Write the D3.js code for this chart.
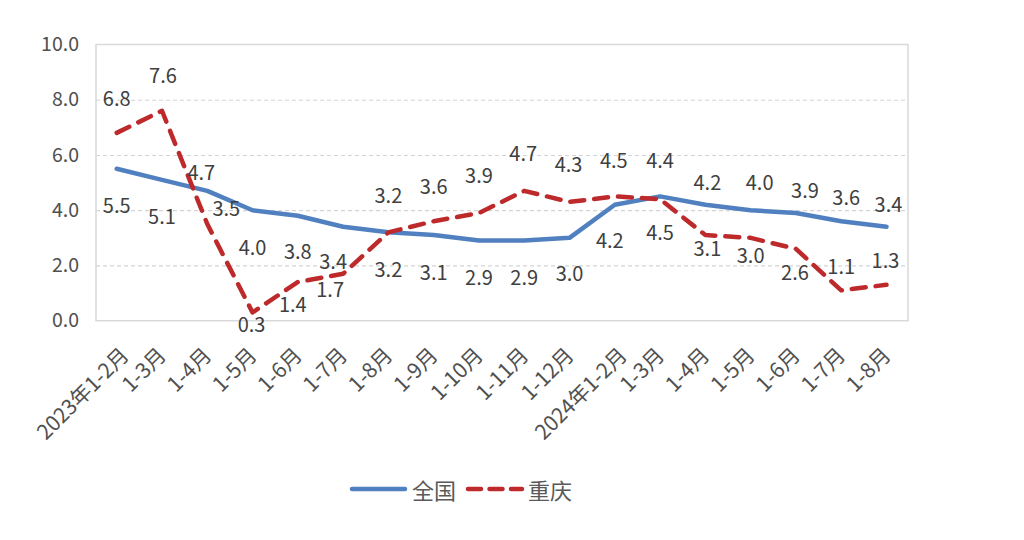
<!DOCTYPE html>
<html>
<head>
<meta charset="utf-8">
<script src="https://cdn.jsdelivr.net/npm/d3@7/dist/d3.min.js"></script>
<style>
  html, body { margin: 0; padding: 0; background: #fff; }
  svg { display: block; font-family: "Noto Sans CJK SC", "Noto Sans", sans-serif; }
</style>
</head>
<body>
<svg id="chart" width="1024" height="540"></svg>
<script>
// ---- data ----
const categories = ["2023年1-2月", "1-3月", "1-4月", "1-5月", "1-6月", "1-7月", "1-8月", "1-9月", "1-10月", "1-11月", "1-12月",
                    "2024年1-2月", "1-3月", "1-4月", "1-5月", "1-6月", "1-7月", "1-8月"];
const nationalValues = [5.5, 5.1, 4.7, 4.0, 3.8, 3.4, 3.2, 3.1, 2.9, 2.9, 3.0, 4.2, 4.5, 4.2, 4.0, 3.9, 3.6, 3.4];
const chongqingValues = [6.8, 7.6, 3.5, 0.3, 1.4, 1.7, 3.2, 3.6, 3.9, 4.7, 4.3, 4.5, 4.4, 3.1, 3.0, 2.6, 1.1, 1.3];
const yTicks = [0, 2, 4, 6, 8, 10];
const seriesNames = ["全国", "重庆"];

// ---- label layout (pixel offsets from each point) ----
const nationalLabelDx = [0, 0, -6, 0, 0, -10, 0, 0, 0, 0, 0, -5, 0, 2, 9, 9, 5, 2];
const nationalLabelDy = [36, 36, -19, 36, 35, 34, 36, 36, 36, 36, 35, 35, 35, -23, -29, -23, -25, -23];
const chongqingLabelDx = [0, 1, 19, -1, -5, -13, 0, 0, 0, -1, -1, -1, 0, 2, 0, -1, 0, -1];
const chongqingLabelDy = [-35, -36, -17, 11, 21, 15, -38, -36, -38, -38, -38, -37, -40, 12, 17, 23, -25, -25];

// ---- layout ----
const svg = d3.select("#chart");
const frame = { left: 96, right: 908, top: 44.5, bottom: 320.7 };

const x = d3.scalePoint().domain(d3.range(categories.length)).range([116.7, 886.5]);
const y = d3.scaleLinear().domain([0, 10]).range([frame.bottom, frame.top]);

const blue = "#5180C0";
const red = "#BE2A2B";
const textColor = "#505050";

// gridlines
const grid = svg.append("g")
  .attr("transform", `translate(${frame.left},0)`)
  .call(d3.axisLeft(y).tickValues(yTicks.filter(t => t > 0 && t < 10)).tickSize(-(frame.right - frame.left)).tickFormat(""));
grid.select(".domain").remove();
grid.selectAll("line").attr("stroke", "#d4d4d4").attr("stroke-width", 1.2).attr("stroke-dasharray", "4,3");

// frame
svg.append("rect")
  .attr("x", frame.left).attr("y", frame.top)
  .attr("width", frame.right - frame.left).attr("height", frame.bottom - frame.top)
  .attr("fill", "none").attr("stroke", "#d9d9d9").attr("stroke-width", 1.5);

// y axis labels
const yAxis = svg.append("g")
  .attr("transform", `translate(${frame.left},0)`)
  .call(d3.axisLeft(y).tickValues(yTicks).tickSize(0).tickPadding(17).tickFormat(d3.format(".1f")));
yAxis.select(".domain").remove();
yAxis.selectAll("text").attr("font-size", 19.5).attr("fill", textColor).attr("font-family", "'Noto Sans CJK SC', sans-serif");

// x axis labels
const xAxis = svg.append("g")
  .attr("transform", `translate(0,${frame.bottom})`)
  .call(d3.axisBottom(x).tickSize(0).tickFormat(i => categories[i]));
xAxis.select(".domain").remove();
xAxis.selectAll("text")
  .attr("font-size", 21)
  .attr("fill", textColor)
  .attr("font-family", "'Noto Sans CJK SC', sans-serif")
  .attr("text-anchor", "end")
  .attr("dy", null)
  .attr("y", 0)
  .attr("transform", i => `translate(${(categories[i].includes("年") ? 13 : 5)},36) rotate(-45)`);

// lines
const line = d3.line().x((d, i) => x(i)).y(d => y(d));

svg.append("path")
  .datum(nationalValues)
  .attr("d", line)
  .attr("fill", "none")
  .attr("stroke", blue)
  .attr("stroke-width", 4.5)
  .attr("stroke-linejoin", "round")
  .attr("stroke-linecap", "round");

svg.append("path")
  .datum(chongqingValues)
  .attr("d", line)
  .attr("fill", "none")
  .attr("stroke", red)
  .attr("stroke-width", 4.5)
  .attr("stroke-linejoin", "round")
  .attr("stroke-linecap", "round")
  .attr("stroke-dasharray", "14,10");

// data labels
function drawLabels(values, dxs, dys) {
  svg.append("g").selectAll("text")
    .data(values)
    .join("text")
    .attr("x", (d, i) => x(i) + dxs[i])
    .attr("y", (d, i) => y(d) + dys[i])
    .attr("text-anchor", "middle")
    .attr("dominant-baseline", "central")
    .attr("font-size", 20)
    .attr("fill", "#404040")
    .text(d => d3.format(".1f")(d));
}
drawLabels(nationalValues, nationalLabelDx, nationalLabelDy);
drawLabels(chongqingValues, chongqingLabelDx, chongqingLabelDy);

// legend
const legend = svg.append("g").attr("transform", "translate(350,489)");
legend.append("line").attr("x1", 2).attr("x2", 55).attr("y1", 0).attr("y2", 0)
  .attr("stroke", blue).attr("stroke-width", 4.5).attr("stroke-linecap", "round");
legend.append("text").attr("x", 62).attr("y", 0).attr("dominant-baseline", "central")
  .attr("font-size", 22).attr("fill", "#595959").text(seriesNames[0]);
legend.append("line").attr("x1", 118).attr("x2", 172).attr("y1", 0).attr("y2", 0)
  .attr("stroke", red).attr("stroke-width", 4.5).attr("stroke-linecap", "round").attr("stroke-dasharray", "13,8.5");
legend.append("text").attr("x", 178).attr("y", 0).attr("dominant-baseline", "central")
  .attr("font-size", 22).attr("fill", "#595959").text(seriesNames[1]);
</script>
</body>
</html>
